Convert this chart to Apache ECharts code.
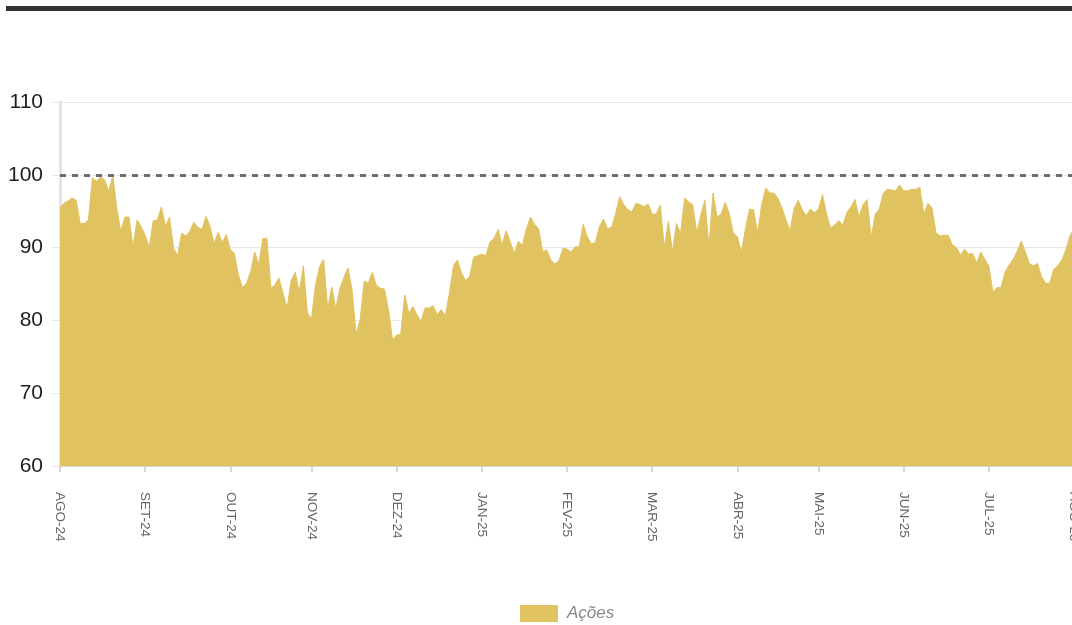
<!DOCTYPE html>
<html>
<head>
<meta charset="utf-8">
<script src="https://cdn.jsdelivr.net/npm/echarts@6/dist/echarts.min.js"></script>
<style>
html,body{margin:0;padding:0;background:#fff;}
#chart{width:1072px;height:625px;}
</style>
</head>
<body>
<div id="chart"></div>
<script>
const seriesName = 'Ações';
const monthLabels = ['AGO-24','SET-24','OUT-24','NOV-24','DEZ-24','JAN-25','FEV-25','MAR-25','ABR-25','MAI-25','JUN-25','JUL-25','AGO-25'];
const monthTickIndex = [0,21,42,62,83,104,125,146,167,187,208,229,250];
const yTicks = [60,70,80,90,100,110];
const referenceLevel = 100;
const acoes = [
95.5,96.1,96.4,96.8,96.5,93.3,93.3,93.8,99.6,99.1,
99.7,99.3,97.7,99.9,95.4,92.2,94.2,94.2,90.1,93.8,
92.9,91.7,90.0,93.7,93.8,95.6,92.9,94.2,89.9,88.9,
92.0,91.6,92.2,93.5,92.8,92.5,94.3,92.9,90.5,92.1,
90.7,91.8,89.7,89.2,86.2,84.5,85.1,86.7,89.4,87.7,
91.2,91.3,84.4,84.9,85.8,83.7,81.7,85.5,86.6,83.9,
87.5,81.1,80.2,84.9,87.4,88.4,81.6,84.6,81.6,84.4,
85.9,87.2,84.2,78.1,80.1,85.4,85.1,86.6,84.8,84.4,
84.3,81.4,77.3,78.0,78.1,83.5,81.0,81.9,80.8,79.9,
81.7,81.7,82.0,80.8,81.5,80.6,83.7,87.5,88.3,86.5,
85.5,86.0,88.7,88.9,89.1,88.9,90.8,91.2,92.5,90.4,
92.3,90.8,89.2,90.9,90.3,92.6,94.2,93.2,92.6,89.4,
89.7,88.3,87.7,88.2,89.9,89.8,89.4,90.1,90.1,93.2,
91.5,90.5,90.7,92.9,93.9,92.6,92.8,94.7,97.0,95.9,
95.2,94.9,96.1,95.9,95.6,96.0,94.6,94.6,95.8,90.0,
93.6,89.4,93.3,92.0,96.8,96.3,95.9,92.0,94.5,96.5,
90.1,97.5,94.2,94.6,96.2,94.7,92.0,91.5,89.4,92.6,
95.3,95.2,92.0,95.9,98.2,97.5,97.5,96.8,95.4,93.8,
92.3,95.4,96.5,95.2,94.4,95.3,94.8,95.3,97.3,94.6,
92.7,93.1,93.7,93.1,94.8,95.6,96.6,94.2,95.9,96.6,
91.4,94.6,95.3,97.5,98.0,97.9,97.8,98.6,97.8,97.8,
98.0,98.0,98.3,94.6,96.1,95.4,92.0,91.6,91.7,91.7,
90.4,90.0,89.0,89.8,89.1,89.2,87.9,89.4,88.4,87.5,
83.9,84.5,84.5,86.6,87.6,88.4,89.5,90.9,89.4,87.8,
87.5,87.8,86.0,85.1,85.1,87.0,87.5,88.3,89.7,91.6,
92.6
];

const tickSet = new Set(monthTickIndex);
const categories = acoes.map((v, i) => {
  const k = monthTickIndex.indexOf(i);
  return k >= 0 ? monthLabels[k] : String(i);
});

const gold = '#E1C260';
const chart = echarts.init(document.getElementById('chart'), null, {renderer: 'canvas'});
chart.setOption({
  animation: false,
  backgroundColor: '#ffffff',
  graphic: [{
    type: 'rect', left: 6, top: 6, shape: {width: 1070, height: 5},
    style: {fill: '#333333'}, silent: true
  }],
  grid: {left: 60, right: -2, top: 102, bottom: 159, containLabel: false, outerBoundsMode: 'none'},
  legend: {
    left: 520, top: 605, padding: 0, icon: 'rect', itemWidth: 38, itemHeight: 17, itemGap: 10,
    textStyle: {fontFamily: '"Liberation Sans", sans-serif', fontStyle: 'italic', fontSize: 17, color: '#888888', padding: [0,0,0,4]},
    data: [seriesName]
  },
  xAxis: {
    type: 'category',
    boundaryGap: false,
    data: categories,
    axisLine: {show: true, lineStyle: {color: '#d6d6d6', width: 2}},
    axisTick: {show: true, length: 6, interval: (i) => tickSet.has(i), lineStyle: {color: '#d6d6d6', width: 2}},
    axisLabel: {
      interval: (i) => tickSet.has(i), rotate: -90, margin: 26,
      fontFamily: '"Liberation Sans", sans-serif', fontSize: 13.5, color: '#666666'
    },
    splitLine: {show: false}
  },
  yAxis: {
    type: 'value', min: yTicks[0], max: yTicks[yTicks.length - 1], interval: 10,
    axisLine: {show: true, lineStyle: {color: '#e0e0e0', width: 2.5}},
    axisTick: {show: true, length: 7, lineStyle: {color: '#e3e3e3', width: 1}},
    axisLabel: {margin: 17, fontFamily: '"Liberation Sans", sans-serif', fontSize: 21, color: '#1e1e1e'},
    splitLine: {show: true, lineStyle: {color: '#e8e8e8', width: 1}}
  },
  series: [{
    name: seriesName,
    type: 'line',
    data: acoes,
    symbol: 'none',
    itemStyle: {color: gold},
    lineStyle: {color: gold, width: 1},
    areaStyle: {color: gold, opacity: 1},
    markLine: {
      silent: true, symbol: 'none', animation: false,
      label: {show: false},
      lineStyle: {type: [6, 6], color: '#6e6e6e', width: 3},
      data: [{yAxis: referenceLevel}]
    }
  }]
});
</script>
</body>
</html>
